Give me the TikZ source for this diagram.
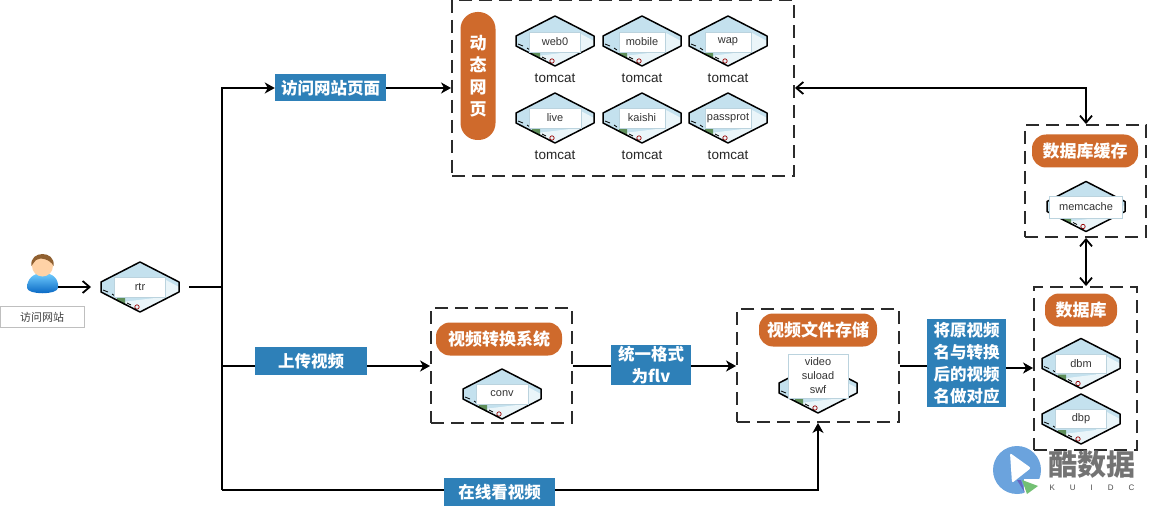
\documentclass[tikz,border=0pt]{standalone}
\usepackage{fontspec}
\setmainfont{Liberation Sans}
\newfontfamily\cjk{Noto Sans CJK SC}
\usetikzlibrary{arrows.meta,calc}
\definecolor{boxblue}{HTML}{2E80B8}
\definecolor{pill}{HTML}{CF6A2C}
\definecolor{srvtop}{HTML}{C4E1EE}
\definecolor{srvlow}{HTML}{EAF5F9}
\definecolor{lblline}{HTML}{BBD3DE}
\definecolor{dashc}{HTML}{2B2B2B}
\definecolor{srvgreen}{HTML}{5F8F5A}
\tikzset{
  x=1pt,y=-1pt,
  flow/.style={line width=2pt,black,-{Stealth[length=10pt,width=11pt,inset=3pt]}},
  barb/.style={line width=2pt,black,-{Straight Barb[length=7pt,width=12pt,line width=1.8pt]}},
  both/.style={line width=2pt,black,{Straight Barb[length=7pt,width=12pt,line width=1.8pt]}-{Straight Barb[length=7pt,width=12pt,line width=1.8pt]}},
  plain/.style={line width=2pt,black},
  bluebox/.style={fill=boxblue,text=white,inner sep=0pt,align=center,font=\cjk\bfseries\fontsize{16.5}{22}\selectfont},
  pillbox/.style={fill=pill,text=white,rounded corners=14pt,inner sep=0pt,align=center,font=\cjk\bfseries\fontsize{17}{22}\selectfont},
  dashbox/.style={draw=dashc,line width=1.9pt,dash pattern=on 13pt off 7pt,inner sep=0pt},
  srvlabel/.style={draw=lblline,line width=.6pt,fill=white,inner sep=0pt,font=\fontsize{11}{14}\selectfont,text=black!80,align=center},
  captxt/.style={inner sep=0pt,font=\fontsize{13.5}{16}\selectfont,text=black!85},
}
% name, cx, cy, label, box width, box height, box dy
\newcommand{\srv}[7]{%
  \begin{scope}[shift={(#2,#3)}]
    \fill[srvtop] (-39,-5)--(0,-25)--(39,-5)--(39,5)--(0,25)--(-39,5)--cycle;
    \fill[srvlow] (-18,15)--(0,25)--(39,5)--(39,0)--(24,-8)--(15,11)--cycle;
    \draw[black,line width=.8pt] (-37,3)--(-32,5) (-28,7)--(-25,9) (-13,16)--(-9,18);
    \fill[srvgreen] (-23,11)--(-15,11)--(-15,18)--(-23,14)--cycle;
    \draw[red!60!black,line width=.7pt] (-3,20) circle (2.2pt);
    \draw[black,line width=1.5pt,line join=round] (-39,-5)--(0,-25)--(39,-5)--(39,5)--(0,25)--(-39,5)--cycle;
    \node[srvlabel,minimum width=#5,minimum height=#6] (#1) at (0,#7) {#4};
  \end{scope}}
\begin{document}
\begin{tikzpicture}
\useasboundingbox (0,0) rectangle (1160,516);
\fill[white] (0,0) rectangle (1160,516);
% containers
\node[dashbox,minimum width=342,minimum height=176] (dyn) at (623,88) {};
\node[dashbox,minimum width=121,minimum height=112] (cache) at (1085.5,181) {};
\node[dashbox,minimum width=103,minimum height=163] (db) at (1085.5,368.5) {};
\node[dashbox,minimum width=141,minimum height=115] (convbox) at (501.5,365.5) {};
\node[dashbox,minimum width=162,minimum height=113] (store) at (818,365.5) {};
% user
\shade[top color=blue!35!cyan!55!white,bottom color=blue!50!cyan!75!black] (27,288) .. controls (27,279) and (33,273) .. (43,273) .. controls (53,273) and (59,279) .. (58,288) .. controls (57,295) and (28,295) .. (27,288) -- cycle;
\fill[orange!35!white] (42.5,266) circle (10.5);
\fill[brown!75!black] (31.5,266) .. controls (29,250) and (56,250) .. (53.5,266) .. controls (50,259) and (40,257) .. (36,260) .. controls (34,262) and (33,264) .. (31.5,266) -- cycle;
\coordinate (user) at (58,287);
\coordinate (rtrin) at (91,287);
\coordinate (rtrout) at (189,287);
\node[draw=black!25,line width=.7pt,minimum width=84,minimum height=21,inner sep=0pt,font=\cjk\fontsize{11}{13}\selectfont,text=black!75] (userlbl) at (42,317) {访问网站};
% servers
\srv{rtr}{140}{287}{rtr}{51}{20}{0}
\srv{web}{555}{41}{web0}{51}{20}{1}
\srv{mob}{642}{41}{mobile}{46}{20}{1}
\srv{wap}{728}{41}{wap}{46}{20}{1}
\srv{live}{555}{118}{live}{52}{20}{0}
\srv{kai}{642}{118}{kaishi}{46}{20}{0}
\srv{pass}{728}{118}{passprot}{46}{20}{0}
\srv{conv}{502}{394}{conv}{52}{20}{0}
\srv{mem}{1086}{206.5}{memcache}{73}{22}{0.5}
\srv{dbm}{1081}{363.5}{dbm}{51}{19}{0}
\srv{dbp}{1081}{419}{dbp}{51}{19}{0}
\srv{vid}{818}{388}{video\\suload\\swf}{60}{44}{-12}
% captions
\node[captxt] (c1) at (555,78) {tomcat};
\node[captxt] (c2) at (642,78) {tomcat};
\node[captxt] (c3) at (728,78) {tomcat};
\node[captxt] (c4) at (555,155) {tomcat};
\node[captxt] (c5) at (642,155) {tomcat};
\node[captxt] (c6) at (728,155) {tomcat};
% pills
\node[pillbox,minimum width=35,minimum height=128,rounded corners=17pt] (pdyn) at (478,76) {动\\态\\网\\页};
\node[pillbox,minimum width=106,minimum height=33] (pcache) at (1085,151) {数据库缓存};
\node[pillbox,minimum width=72,minimum height=33] (pdb) at (1081,310) {数据库};
\node[pillbox,minimum width=126,minimum height=33] (pconv) at (499,339) {视频转换系统};
\node[pillbox,minimum width=118,minimum height=33] (pstore) at (818,330) {视频文件存储};
% blue labels
\node[bluebox,minimum width=111,minimum height=27] (b1) at (330.5,88) {访问网站页面};
\node[bluebox,minimum width=112,minimum height=28] (b2) at (311,361) {上传视频};
\node[bluebox,minimum width=80,minimum height=40] (b3) at (651,365) {统一格式\\为flv};
\node[bluebox,minimum width=79,minimum height=88] (b4) at (966.5,363) {将原视频\\名与转换\\后的视频\\名做对应};
\node[bluebox,minimum width=111,minimum height=28] (b5) at (499.5,492) {在线看视频};
% junction coordinates
\coordinate (jt) at (222,88);
\coordinate (jm) at (222,287);
\coordinate (ju) at (222,366);
\coordinate (jb) at (222,490);
\coordinate (jr) at (818,490);
\coordinate (jc) at (1086,88);
\coordinate (jd) at (0,368);
% connectors
\draw[barb] (user) -- (rtrin);
\draw[plain] (rtrout) -- (jm);
\draw[flow,line join=miter] (jr -| jb) -- (jt) -- (b1.west |- jt);
\draw[flow] (b1.east |- jt) -- (dyn.west |- jt);
\draw[plain] (ju) -- (b2.west |- ju);
\draw[flow] (b2.east |- ju) -- (convbox.west |- ju);
\draw[plain] (convbox.east |- ju) -- (b3.west |- ju);
\draw[flow] (b3.east |- ju) -- (store.west |- ju);
\draw[plain] (store.east |- ju) -- (b4.west |- ju);
\draw[flow] (b4.east |- jd) -- (db.west |- jd);
\draw[plain] (jb) -- (b5.west |- jb);
\draw[flow] (b5.east |- jb) -- (jr) -- (store.south -| jr);
\draw[both] (dyn.east |- jc) -- (jc) -- (cache.north -| jc);
\draw[both] (cache.south -| jc) -- (db.north -| jc);
% watermark
\fill[cyan!60!blue!60!white] (1017,470) circle (24);
\fill[white] (1024,479) -- (1042,479) -- (1042,497) -- (1024,497) -- cycle;
\fill[white,rounded corners=2pt] (1010,453) -- (1031,468) -- (1012,483) -- cycle;
\fill[green!55!black!55] (1022,480) -- (1038,486) -- (1027,494) -- cycle;
\fill[blue!60!black!60] (1017,480) -- (1021,480) -- (1025,493) -- cycle;
\node[inner sep=0pt,font=\cjk\bfseries\fontsize{29}{32}\selectfont,text=black!55] (wm) at (1092,465) {酷数据};
\node[inner sep=0pt,font=\fontsize{8}{10}\selectfont,text=black!70] (wm2) at (1092,488) {K\hspace{15pt}U\hspace{15pt}I\hspace{15pt}D\hspace{15pt}C};
\end{tikzpicture}
\end{document}
